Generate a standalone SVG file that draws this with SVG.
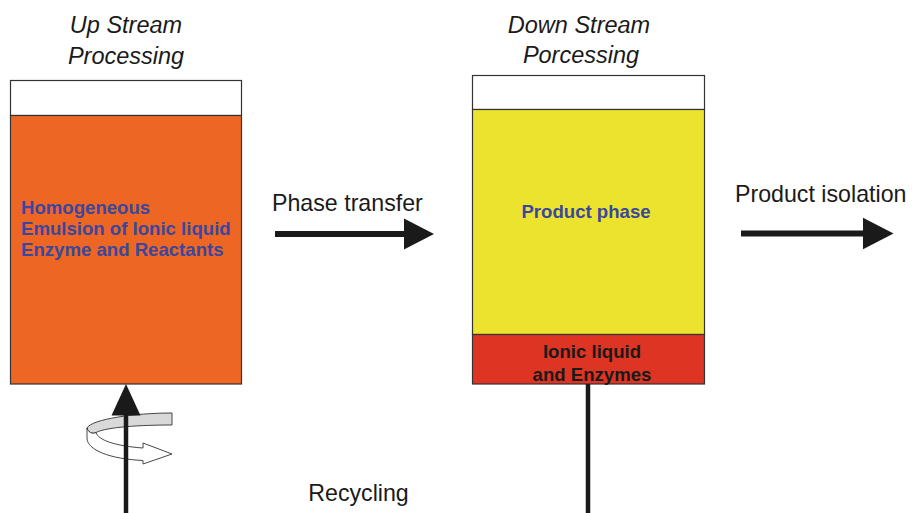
<svg xmlns="http://www.w3.org/2000/svg" width="912" height="513" viewBox="0 0 912 513">
<style>
.title{font-family:"Liberation Sans",Arial,sans-serif;font-style:italic;font-size:23.5px;fill:#1a1a1a;text-anchor:middle}
.lbl{font-family:"Liberation Sans",Arial,sans-serif;font-size:23.2px;fill:#1a1a1a}
.bold{font-family:"Liberation Sans",Arial,sans-serif;font-weight:bold;font-size:18.6px}
.blue{fill:#3a479f}
.box{stroke:#333;stroke-width:1.2}
.conn{stroke:#1a1a1a;fill:none}
.head{fill:#1a1a1a}
</style>
<rect width="912" height="513" fill="#fff"/>
<g id="upstream">
<text class="title" x="126" y="33">Up Stream</text>
<text class="title" x="126" y="64">Processing</text>
<rect class="box" x="10.5" y="80.5" width="231" height="35" fill="#fff"/>
<rect class="box" x="10.5" y="115.5" width="231" height="268.5" fill="#ee6623"/>
<text class="bold blue" x="21" y="214">Homogeneous</text>
<text class="bold blue" x="21" y="235">Emulsion of Ionic liquid</text>
<text class="bold blue" x="21" y="256">Enzyme and Reactants</text>
</g>
<g id="downstream">
<text class="title" x="579" y="33">Down Stream</text>
<text class="title" x="581" y="63">Porcessing</text>
<rect class="box" x="472.5" y="75.5" width="232" height="34" fill="#fff"/>
<rect class="box" x="472.5" y="109.5" width="232" height="225" fill="#ece32f"/>
<rect class="box" x="472.5" y="334.5" width="232" height="49.5" fill="#dd3424"/>
<text class="bold blue" x="586" y="217.5" text-anchor="middle">Product phase</text>
<text class="bold" x="592" y="358" text-anchor="middle" fill="#1a1a1a">Ionic liquid</text>
<text class="bold" x="592" y="380.5" text-anchor="middle" fill="#1a1a1a">and Enzymes</text>
</g>
<g id="labels">
<text class="lbl" x="272" y="211" font-size="23.8">Phase transfer</text>
<text class="lbl" x="735" y="202" font-size="23.8">Product isolation</text>
<text class="lbl" x="358.5" y="501" text-anchor="middle">Recycling</text>
</g>
<g id="connectors">
<line class="conn" x1="275" y1="234" x2="405" y2="234" stroke-width="5.8"/>
<polygon class="head" points="404,218.5 434,234 404,249.5"/>
<line class="conn" x1="741" y1="233.5" x2="864" y2="233.5" stroke-width="5.8"/>
<polygon class="head" points="863,217.7 893.5,233.5 863,249.3"/>
<g id="rotation" stroke="#333" stroke-width="0.9" stroke-linejoin="round">
<path d="M172,413 L172,425 C140,425 107,427 96,432.5 C92,434.5 88,432 87,428 C92,419 135,413 172,413 Z" fill="#d8d9d8"/>
<path d="M87,428 C88,432 92,434.5 96,432.5 C98,440 115,446 143,448 L143,443 L172,454 L143,464 L143,460.5 C110,459 87,450 87,438 Z" fill="#fff"/>
</g>
<line class="conn" x1="126" y1="513" x2="126" y2="410" stroke-width="4.5"/>
<polygon class="head" points="126,384 140.5,415.5 111.5,415.5"/>
<line class="conn" x1="588" y1="384" x2="588" y2="513" stroke-width="4.5"/>
</g>
</svg>
